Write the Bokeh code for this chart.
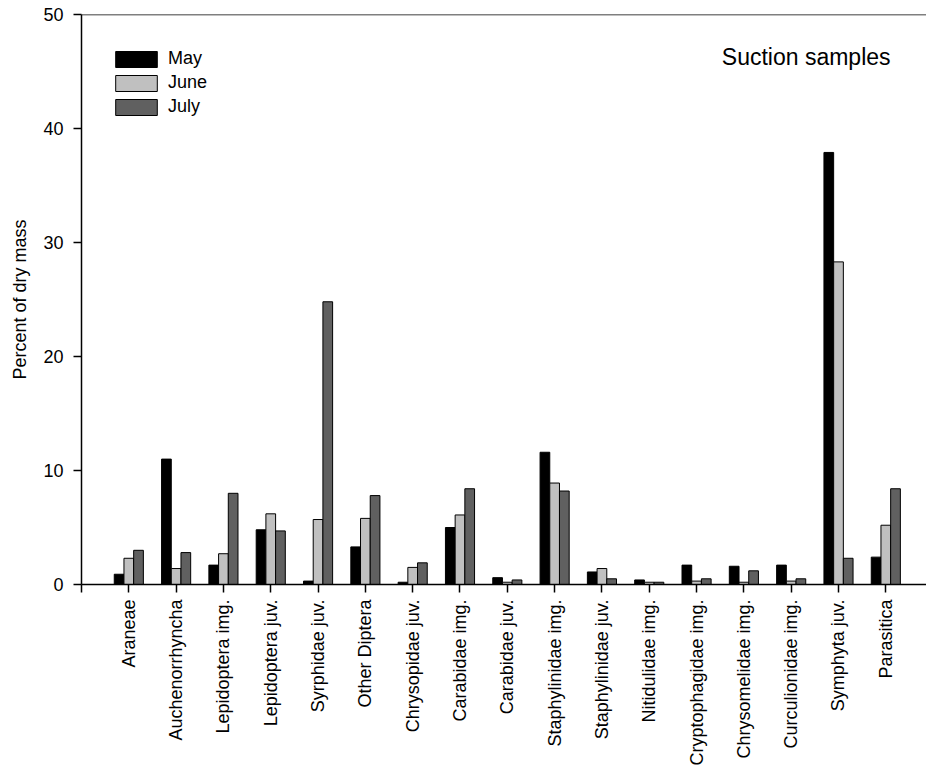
import math
from bokeh.plotting import figure
from bokeh.models import Range1d, FixedTicker, Span, Label
from bokeh.embed import file_html
from bokeh.resources import INLINE

categories = ["Araneae", "Auchenorrhyncha", "Lepidoptera img.", "Lepidoptera juv.",
              "Syrphidae juv.", "Other Diptera", "Chrysopidae juv.", "Carabidae img.",
              "Carabidae juv.", "Staphylinidae img.", "Staphylinidae juv.", "Nitidulidae img.",
              "Cryptophagidae img.", "Chrysomelidae img.", "Curculionidae img.", "Symphyta juv.",
              "Parasitica"]
may = [0.9, 11.0, 1.7, 4.8, 0.3, 3.3, 0.2, 5.0, 0.6, 11.6, 1.1, 0.4, 1.7, 1.6, 1.7, 37.9, 2.4]
june = [2.3, 1.4, 2.7, 6.2, 5.7, 5.8, 1.5, 6.1, 0.2, 8.9, 1.4, 0.2, 0.3, 0.2, 0.3, 28.3, 5.2]
july = [3.0, 2.8, 8.0, 4.7, 24.8, 7.8, 1.9, 8.4, 0.4, 8.2, 0.5, 0.2, 0.5, 1.2, 0.5, 2.3, 8.4]
y_ticks = [0, 10, 20, 30, 40, 50]
series_names = ["May", "June", "July"]

FONT = "Liberation Sans"
BW = 0.205

p = figure(width=926, height=768, output_backend="svg", toolbar_location=None,
           x_range=Range1d(0, 17.86), y_range=Range1d(0, 50),
           min_border_left=81, min_border_top=14, min_border_right=0, min_border_bottom=184)
p.outline_line_color = None
p.grid.visible = False
p.background_fill_color = "white"

pos = [i + 1 for i in range(len(categories))]
colors = ["#000000", "#c0c0c0", "#606060"]
offsets = [-BW, 0.0, BW]
for vals, name, col, off in zip([may, june, july], series_names, colors, offsets):
    p.vbar(x=[x + off for x in pos], top=vals, width=BW, bottom=0,
           fill_color=col, line_color="black", line_width=1, legend_label=name)

# Y axis
ya = p.yaxis[0]
ya.ticker = FixedTicker(ticks=y_ticks)
ya.minor_tick_line_color = None
ya.major_tick_out = 8
ya.major_tick_in = 0
ya.axis_line_width = 1.5
ya.major_tick_line_width = 1.5
ya.major_label_text_font = FONT
ya.major_label_text_font_size = "18px"
ya.major_label_text_color = "black"
ya.major_label_standoff = 10
ya.axis_label = "Percent of dry mass"
ya.axis_label_text_font = FONT
ya.axis_label_text_font_size = "18px"
ya.axis_label_text_font_style = "normal"
ya.axis_label_text_color = "black"
ya.axis_label_standoff = 10

# X axis
xa = p.xaxis[0]
xa.ticker = FixedTicker(ticks=[0] + pos)
overrides = {0: ""}
for x, c in zip(pos, categories):
    overrides[x] = c
xa.major_label_overrides = overrides
xa.major_label_orientation = math.pi / 2
xa.minor_tick_line_color = None
xa.major_tick_out = 8
xa.major_tick_in = 0
xa.axis_line_width = 1.5
xa.major_tick_line_width = 1.5
xa.major_label_text_font = FONT
xa.major_label_text_font_size = "18px"
xa.major_label_text_color = "black"
xa.major_label_standoff = 7

# Top border line
p.add_layout(Span(location=50, dimension="width", line_color="black", line_width=1.5))

# Title text inside
p.add_layout(Label(x=17.10, y=46.3, text="Suction samples", text_align="right",
                   text_baseline="middle", text_font=FONT, text_font_size="23px",
                   text_color="black"))

lg = p.legend[0]
lg.location = (29, 467)
lg.margin = 0
lg.padding = 0
lg.spacing = 3
lg.glyph_width = 52
lg.glyph_height = 20
lg.label_standoff = 6
lg.label_text_font = FONT
lg.label_text_font_size = "18px"
lg.label_text_color = "black"
lg.border_line_color = None
lg.background_fill_alpha = 0

open("out.html", "w").write(file_html(p, INLINE))
